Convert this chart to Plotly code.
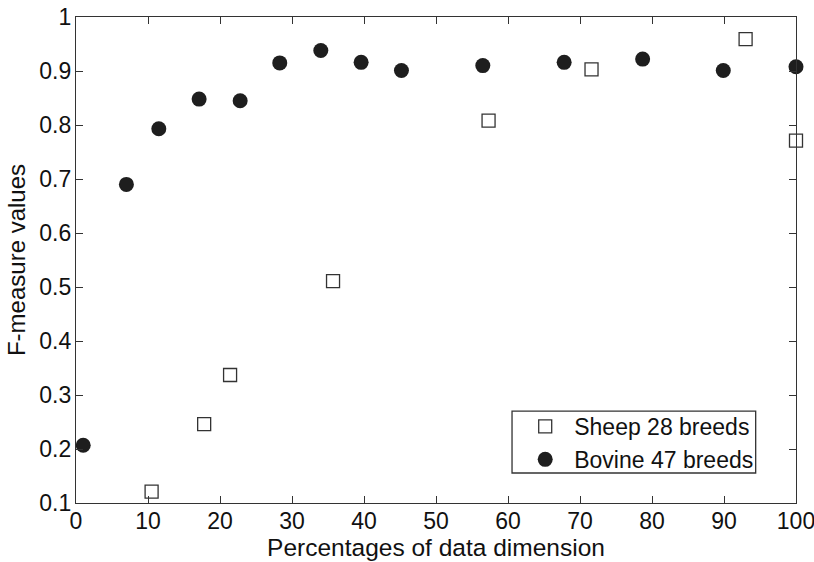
import plotly.graph_objects as go

sheep_x = [10.5, 17.8, 21.4, 35.7, 57.3, 71.6, 93.0, 100.0]
sheep_y = [0.121, 0.246, 0.337, 0.511, 0.808, 0.903, 0.959, 0.771]
bovine_x = [1.0, 7.0, 11.5, 17.1, 22.8, 28.3, 34.0, 39.6, 45.2, 56.5, 67.8, 78.7, 89.9, 100.0]
bovine_y = [0.207, 0.690, 0.793, 0.848, 0.845, 0.915, 0.938, 0.916, 0.901, 0.910, 0.916, 0.922, 0.901, 0.908]

x_ticks = [0, 10, 20, 30, 40, 50, 60, 70, 80, 90, 100]
y_ticks = [0.1, 0.2, 0.3, 0.4, 0.5, 0.6, 0.7, 0.8, 0.9, 1.0]
y_labels = ["0.1", "0.2", "0.3", "0.4", "0.5", "0.6", "0.7", "0.8", "0.9", "1"]

FONT = "Liberation Sans, Arial, sans-serif"

fig = go.Figure()
fig.add_trace(go.Scatter(
    x=sheep_x, y=sheep_y, mode="markers", name="Sheep 28 breeds",
    marker=dict(symbol="square-open", size=13, color="#333333", line=dict(width=1.3, color="#333333")),
    cliponaxis=False,
))
fig.add_trace(go.Scatter(
    x=bovine_x, y=bovine_y, mode="markers", name="Bovine 47 breeds",
    marker=dict(symbol="circle", size=15, color="#1e1e1e", line=dict(width=0)),
    cliponaxis=False,
))

axis_common = dict(
    showgrid=False, zeroline=False, showline=True, linecolor="#333333", linewidth=1.3,
    mirror="ticks", ticks="inside", ticklen=7, tickcolor="#333333", tickwidth=1.3,
    tickfont=dict(family=FONT, size=23, color="#111111"), automargin=False,
    ticklabeloverflow="allow",
)

# legend frame (as in the reference, a tight rectangle)
fig.add_shape(type="rect", xref="paper", yref="paper",
              x0=0.6056, x1=0.944, y0=0.0617, y1=0.189,
              line=dict(color="#333333", width=1.3), fillcolor="white", layer="above")

fig.update_layout(
    width=814, height=562,
    margin=dict(l=76, r=18, t=17, b=59),
    paper_bgcolor="white", plot_bgcolor="white",
    font=dict(family=FONT, size=23, color="#111111"),
    xaxis=dict(range=[0, 100], tickvals=x_ticks, ticktext=[str(v) for v in x_ticks],
               title=dict(text="Percentages of data dimension", standoff=0,
                          font=dict(family=FONT, size=24.5, color="#111111")),
               ticklabelstandoff=-3,
               **axis_common),
    yaxis=dict(range=[0.1, 1.0], tickvals=y_ticks, ticktext=y_labels,
               title=dict(text="F-measure values", standoff=6,
                          font=dict(family=FONT, size=24, color="#111111")),
               ticklabelstandoff=-1,
               **axis_common),
    legend=dict(x=0.6114, y=0.2016, xanchor="left", yanchor="top",
                borderwidth=0, bgcolor="rgba(0,0,0,0)",
                font=dict(family=FONT, size=23, color="#111111"),
                itemwidth=48),
    showlegend=True,
)

fig.write_html("out.html", post_script="document.body.style.margin='0';",
               config={"displayModeBar": False})
